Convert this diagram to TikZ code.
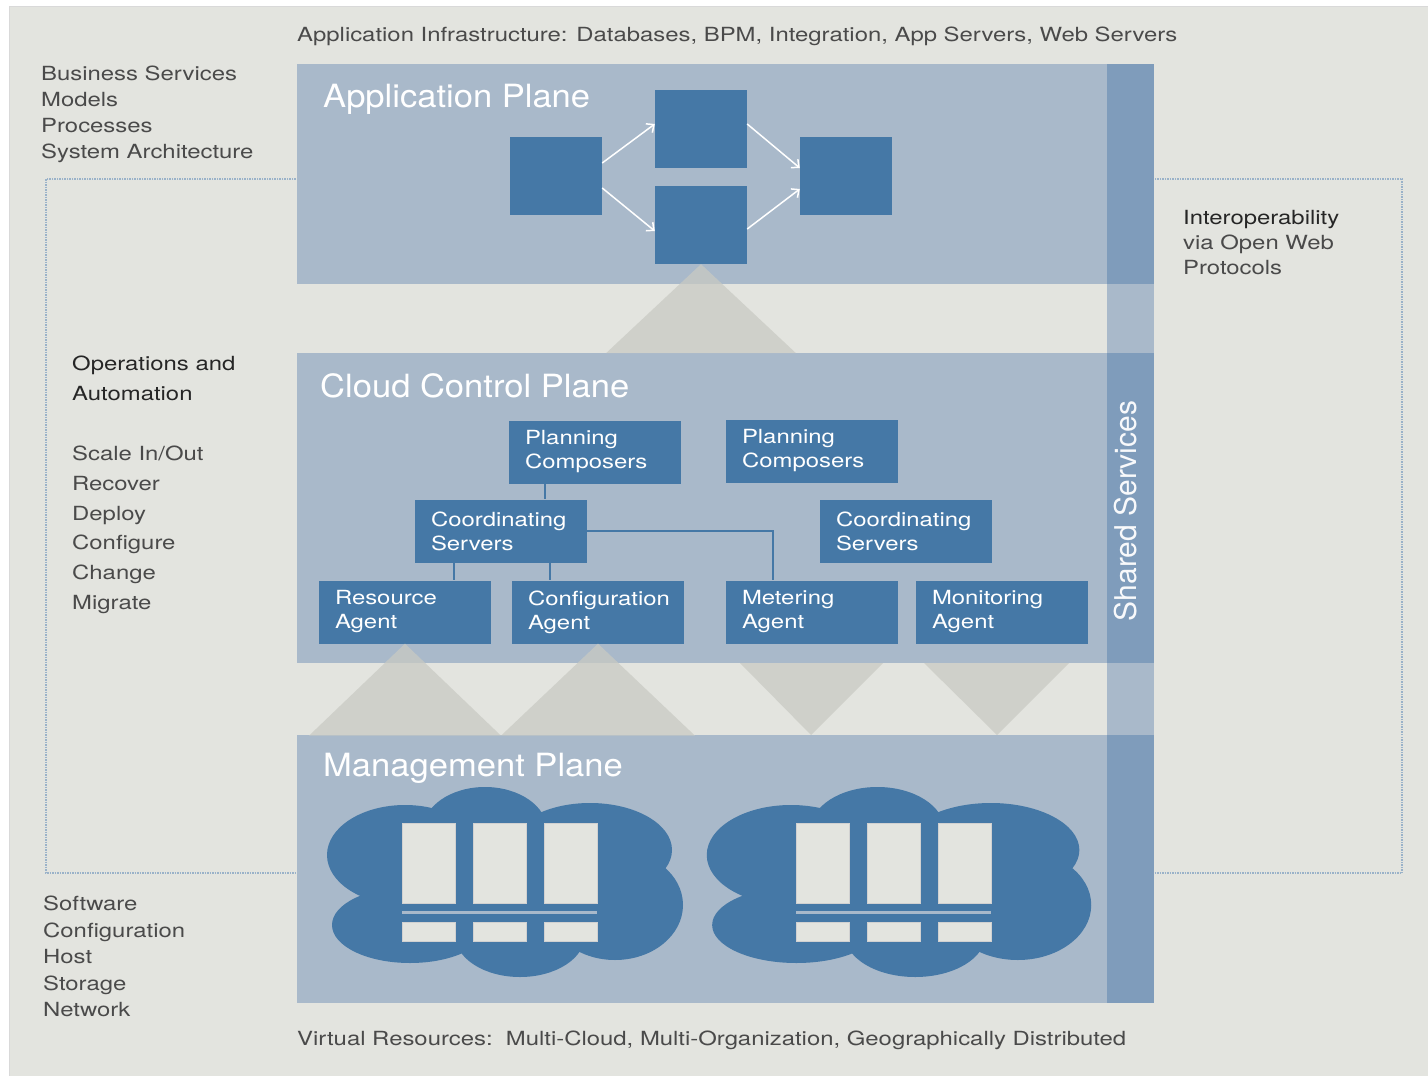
\documentclass[tikz,border=0pt]{standalone}
\usepackage{fontspec}
\setmainfont{TeX Gyre Heros}[FakeStretch=1.225]
\newfontfamily\titlefont{TeX Gyre Heros}[FakeStretch=1.08]
\newfontfamily\upfont{TeX Gyre Heros}
\usetikzlibrary{arrows.meta}
\definecolor{bggray}{HTML}{E3E4DF}
\definecolor{planeblue}{HTML}{A9B9CA}
\definecolor{sharedblue}{HTML}{7F9CBB}
\definecolor{boxblue}{HTML}{4578A6}
\definecolor{tricol}{HTML}{C9CAC3}
\definecolor{dotblue}{HTML}{9AB2C9}
\definecolor{txtgray}{HTML}{4A4A4A}
\definecolor{txtdark}{HTML}{262626}
\tikzset{
  appbox/.style={fill=boxblue, minimum width=92, minimum height=78, inner sep=0},
  ctlbox/.style={fill=boxblue, text=white, text width=140, inner xsep=16, inner ysep=0,
    minimum height=63, align=left, font=\fontsize{19.5}{24}\selectfont},
  planetitle/.style={text=white, anchor=north west, inner sep=0, font=\titlefont\fontsize{32}{36}\selectfont},
  sidetext/.style={text=txtgray, anchor=north west, inner sep=0, align=left, font=\fontsize{19.5}{26}\selectfont},
  wedge/.style={fill=tricol, fill opacity=.75},
  link/.style={boxblue, line width=1.2},
}
\begin{document}
\begin{tikzpicture}[x=1pt,y=-1pt]
  \useasboundingbox (0,0) rectangle (1428,1076);
  \fill[white] (0,0) rectangle (1428,1076);
  \filldraw[fill=bggray, draw=black!15] (9,6) rectangle (1432,1080);
  % dotted frame
  \draw[dotblue, densely dotted, line width=1.5] (46,179) rectangle (1402,873);
  % planes and shared services
  \fill[planeblue] (1107,64) rectangle (1154,1003);
  \foreach \ya/\yb in {64/284,353/663,735/1003}{
    \fill[planeblue] (297,\ya) rectangle (1107,\yb);
    \fill[sharedblue] (1107,\ya) rectangle (1154,\yb);
  }
  \node[planetitle] (apptitle) at (323,84) {Application Plane};
  \node[planetitle] (ctltitle) at (320,373) {Cloud Control Plane};
  \node[planetitle] (mgmttitle) at (323,753) {Management Plane};
  \node[text=white!92!planeblue, rotate=90, inner sep=0, font=\upfont\fontsize{30}{34}\selectfont] (shared) at (1126,511) {Shared Services};
  % application plane
  \node[appbox] (ap1) at (556,176) {};
  \node[appbox] (ap2) at (701,129) {};
  \node[appbox] (ap3) at (701,225) {};
  \node[appbox] (ap4) at (846,176) {};
  \draw[white, line width=1.5, -{Straight Barb[length=6pt,width=11pt]}] ([yshift=13]ap1.east) -- ([yshift=5]ap2.west);
  \draw[white, line width=1.5, -{Straight Barb[length=6pt,width=11pt]}] ([yshift=-12]ap1.east) -- ([yshift=-6]ap3.west);
  \draw[white, line width=1.5, -{Straight Barb[length=6pt,width=11pt]}] ([yshift=5]ap2.east) -- ([yshift=8]ap4.west);
  \draw[white, line width=1.5, -{Straight Barb[length=6pt,width=11pt]}] ([yshift=-4]ap3.east) -- ([yshift=-13]ap4.west);
  % cloud control plane
  \node[ctlbox] (pc1) at (595,452) {Planning\\Composers};
  \node[ctlbox] (pc2) at (812,451) {Planning\\Composers};
  \node[ctlbox] (cs1) at (501,531) {Coordinating\\Servers};
  \node[ctlbox] (cs2) at (906,531) {Coordinating\\Servers};
  \node[ctlbox] (ra) at (405,612) {Resource\\Agent};
  \node[ctlbox] (ca) at (598,612) {Configuration\\Agent};
  \node[ctlbox] (ma) at (812,612) {Metering\\Agent};
  \node[ctlbox] (mo) at (1002,612) {Monitoring\\Agent};
  \draw[link] ([xshift=-50]pc1.south) -- ([xshift=-50]pc1.south |- cs1.north);
  \draw[link] ([xshift=-47]cs1.south) -- ([xshift=-47]cs1.south |- ra.north);
  \draw[link] ([xshift=49]cs1.south) -- ([xshift=49]cs1.south |- ca.north);
  \draw[link] (cs1.east) -| ([xshift=-39]ma.north);
  % wedges between planes
  \fill[wedge] (ap3.south) -- ++(-95,89) -- ++(190,0) -- cycle;
  \fill[wedge] (ra.south) -- ++(-96,92) -- ++(192,0) -- cycle;
  \fill[wedge] (ca.south) -- ++(-97,92) -- ++(194,0) -- cycle;
  \fill[wedge] (740,663) -- (883,663) -- (811,735) -- cycle;
  \fill[wedge] (924,663) -- (1069,663) -- (997,735) -- cycle;
  % management plane clouds
  \foreach \dx/\sx in {0/1,394/1.08}{
    \begin{scope}[shift={(505+\dx,0)}, xscale=\sx, shift={(-505,0)}]
      \fill[boxblue] (405,855) ellipse (78pt and 50pt);
      \fill[boxblue] (485,830) ellipse (62pt and 43pt);
      \fill[boxblue] (590,850) ellipse (82pt and 47pt);
      \fill[boxblue] (615,905) ellipse (68pt and 55pt);
      \fill[boxblue] (520,935) ellipse (65pt and 42pt);
      \fill[boxblue] (410,925) ellipse (78pt and 38pt);
      \fill[boxblue] (505,880) ellipse (140pt and 60pt);
    \end{scope}
    \begin{scope}[shift={(\dx,0)}]
      \foreach \sx in {402,473,544}{
        \filldraw[fill=bggray, draw=black!18] (\sx,823) rectangle ++(53,80);
        \filldraw[fill=bggray, draw=black!18] (\sx,922) rectangle ++(53,19);
      }
      \draw[planeblue, line width=3] (402,912) -- (597,912);
    \end{scope}
  }
  % side texts
  \node[sidetext] (infra) at (297,27) {Application Infrastructure: Databases, BPM, Integration, App Servers, Web Servers};
  \node[sidetext] (bizlist) at (41,66) {Business Services\\Models\\Processes\\System Architecture};
  \node[sidetext, text=txtdark, font=\fontsize{19.5}{30}\selectfont] (opstitle) at (72,356) {Operations and\\Automation};
  \node[sidetext, font=\fontsize{19.5}{29.7}\selectfont] (opslist) at (72,446) {Scale In/Out\\Recover\\Deploy\\Configure\\Change\\Migrate};
  \node[sidetext, font=\fontsize{19.5}{26.5}\selectfont] (reslist) at (43,896) {Software\\Configuration\\Host\\Storage\\Network};
  \node[sidetext, font=\fontsize{19.5}{25}\selectfont] (interop) at (1183,210) {{\color{txtdark}Interoperability}\\via Open Web\\Protocols};
  \node[sidetext] (virtual) at (297,1031) {Virtual Resources:\ \ Multi-Cloud, Multi-Organization, Geographically Distributed};
\end{tikzpicture}
\end{document}
